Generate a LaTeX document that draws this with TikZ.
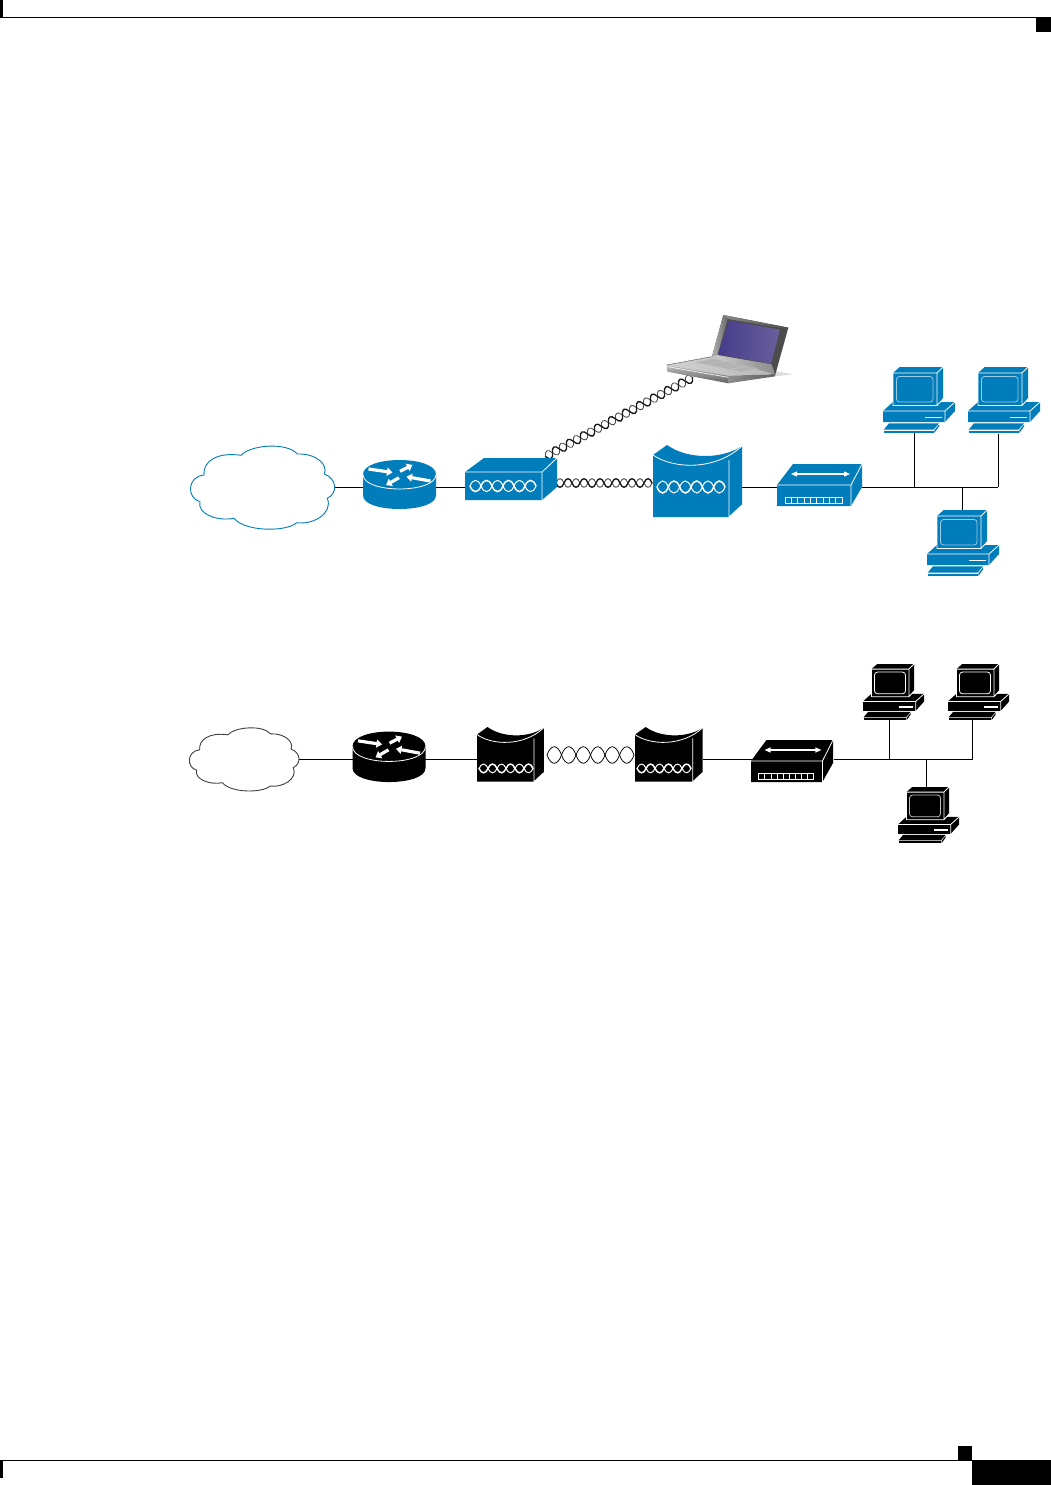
\documentclass[tikz,border=0pt]{standalone}
\usetikzlibrary{arrows.meta,calc}
\definecolor{ciscoblue}{HTML}{007DBA}
\definecolor{lightedge}{HTML}{9CCBE4}
\tikzset{
  device/.style 2 args={inner sep=0pt,outer sep=0pt,minimum width=#1pt,minimum height=#2pt},
  wire/.style={draw=black,line width=0.9pt},
  edgeline/.style={draw=white,line width=0.8pt,line join=round},
  thickstrand/.style={draw=black!90,line width=1.35pt,line cap=round},
  thinstrand/.style={draw=black!70,line width=0.85pt,line cap=round},
  plainstrand/.style={draw=black,line width=0.75pt},
  innerA/.style={draw=white,line width=1.5pt,line cap=round},
  innerB/.style={draw=white,line width=1.0pt,line cap=round},
}
% one twisted pair along the local x axis: length, lens count, control height, styles
\newcommand{\twistrun}[5]{%
  \pgfmathsetmacro\tw{#1/#2}%
  \foreach \i in {1,...,#2}{%
    \pgfmathsetmacro\ta{(\i-1)*\tw}%
    \pgfmathsetmacro\tb{\ta+0.27*\tw}%
    \pgfmathsetmacro\tc{\ta+0.73*\tw}%
    \pgfmathsetmacro\td{\ta+\tw}%
    \pgfmathsetmacro\sg{(2*mod(\i,2)-1)*#3}%
    \draw[#5] (\ta,0) .. controls (\tb,-\sg) and (\tc,-\sg) .. (\td,0);
    \draw[#4] (\ta,0) .. controls (\tb,\sg) and (\tc,\sg) .. (\td,0);
  }}
% twisted cable between two named points
\newcommand{\twistcable}[6]{%
  \path let \p1=(#1),\p2=(#2),\n1={veclen(\x2-\x1,\y2-\y1)},\n2={atan2(\y2-\y1,\x2-\x1)} in
    \pgfextra{\pgfmathsetmacro\cablelen{\n1}\xdef\cablelen{\cablelen}\pgfmathsetmacro\cableang{\n2}\xdef\cableang{\cableang}};
  \begin{scope}[shift={(#1)},rotate=\cableang]
    \twistrun{\cablelen}{#3}{#4}{#5}{#6}
  \end{scope}}
% cloud: top-left x, y, scale, outline colour
\newcommand{\cloudicon}[4]{%
  \begin{scope}[shift={(#1,#2)},x=#3pt,y=-#3pt]
    \draw[draw=#4,line width=0.9pt,fill=white]
      (14,30) .. controls (12.7,16.7) and (26.7,6.7) .. (51,10.3)
      .. controls (60,0) and (96.7,-3.3) .. (107.3,9)
      .. controls (126.7,8.3) and (138.3,20) .. (134.3,29)
      .. controls (146.7,33.3) and (148.3,48.3) .. (137.3,53.3)
      .. controls (143.3,68.3) and (123.3,80) .. (106.7,77.7)
      .. controls (96.7,87) and (55,87) .. (44,73.3)
      .. controls (26.7,76.7) and (6.7,68.3) .. (10,56.7)
      .. controls (-3.3,53.3) and (-3.3,31.7) .. (14,30) -- cycle;
  \end{scope}}
% router: top-ellipse centre x, y, fill, y stretch
\newcommand{\routericon}[4]{%
  \begin{scope}[shift={(#1,#2)},x=1pt,y=-#4pt]
    \fill[#3] (-36.5,0) -- (-36.5,21) .. controls (-36.5,39) and (36.5,39) .. (36.5,21)
      -- (36.5,0) .. controls (36.5,-19.3) and (-36.5,-19.3) .. (-36.5,0) -- cycle;
    \draw[edgeline] (-36.5,0) .. controls (-36.5,19.3) and (36.5,19.3) .. (36.5,0);
    \foreach \ax/\ay/\bx/\by in {-31/-5.5/-7/-2, 0.5/-3.2/13/-9.6, 31/6.5/7/2.2, -0.5/3.2/-13.5/10.6}{
      \draw[draw=white,line width=3.2pt,-{Triangle[length=5.5pt,width=8pt,fill=white]}] (\ax,\ay) -- (\bx,\by);
    }
  \end{scope}}
% modem box: front left x, back top y, fill
\newcommand{\modemicon}[3]{%
  \begin{scope}[shift={(#1,#2)},x=1pt,y=-1pt]
    \fill[#3] (0,14) -- (19,0) -- (92,0) -- (92,29) -- (77,42) -- (0,42) -- cycle;
    \draw[edgeline] (0,14) -- (77,14) -- (92,0) (77,14) -- (77,42);
    \begin{scope}[shift={(5,28)}]
      \twistrun{66}{6}{7.5}{innerA}{innerB}
    \end{scope}
  \end{scope}}
% concave-top device: left x, top y, scale x, scale y, fill, helix y, helix x, helix length, helix control height
\newcommand{\dslicon}[9]{%
  \begin{scope}[shift={(#1,#2)},x=#3pt,y=-#4pt]
    \fill[#5] (0,10) -- (14,0) .. controls (35,15) and (70,14) .. (89,1) -- (89,60) -- (76,72) -- (0,72) -- cycle;
    \draw[edgeline] (0,10) .. controls (20,24) and (62,26) .. (89,1);
    \draw[edgeline] (76,15) -- (76,72) -- (89,60);
    \begin{scope}[shift={(#7,#6)},x=1pt,y=-1pt]
      \twistrun{#8}{6}{#9}{innerA}{innerB}
    \end{scope}
  \end{scope}}
% hub: left x, top y, x scale, fill
\newcommand{\hubicon}[4]{%
  \begin{scope}[shift={(#1,#2)},x=#3pt,y=-1pt]
    \fill[#4] (0,21) -- (16,0) -- (85,0) -- (85,23) -- (74,42) -- (0,42) -- cycle;
    \draw[edgeline] (0,21) -- (74,21) -- (85,0) (74,21) -- (74,42);
    \draw[draw=white,line width=1.1pt,{Triangle[length=6pt,width=5pt,fill=white]}-{Triangle[length=6pt,width=5pt,fill=white]}] (14,10) -- (73,10);
    \draw[draw=white,line width=0.75pt] (8,33.5) rectangle (65,39.5);
    \foreach \k in {1,...,8}{
      \draw[draw=white,line width=0.75pt] ({8+6.333*\k},33.5) -- ({8+6.333*\k},39.5);
    }
  \end{scope}}
% computer: left x, top y, scale, fill, screen outline
\newcommand{\pcicon}[5]{%
  \begin{scope}[shift={(#1,#2)},x=#3pt,y=-#3pt]
    \fill[#4] (0,44) -- (10,35) -- (72,35) -- (72,44) -- (62,55) -- (0,55) -- cycle;
    \fill[#4] (10,6) -- (16.7,0) -- (60,0) -- (60,31) -- (54,38.5) -- (10,38.5) -- cycle;
    \draw[edgeline] (10,6) -- (54,6) -- (60,0) (54,6) -- (54,38.5) (10,6) -- (10,38.5) -- (54,38.5) -- (60,32);
    \draw[draw=#5,line width=0.8pt,rounded corners=3pt] (13.5,9.5) rectangle (50,35);
    \draw[edgeline] (0,44) -- (62,44) -- (72,35) (62,44) -- (62,55);
    \draw[draw=white,line width=1.5pt] (42,50.5) -- (59,50.5);
    \fill[#4] (6,56.3) -- (56,56.3) -- (50.5,62.7) -- (0.7,62.7) -- cycle;
    \fill[#4] (0.7,63.7) -- (50.5,63.7) -- (50.5,66) -- (0.7,66) -- cycle;
    \fill[#4] (51.3,63.4) -- (56,57.5) -- (56,59.5) -- (51.3,66) -- cycle;
  \end{scope}}
\begin{document}
\begin{tikzpicture}[x=1pt,y=-1pt]
\fill[white] (0,0) rectangle (1051,1485);
\useasboundingbox (0,0) rectangle (1051,1485);
% page furniture
\fill[black] (0,0) rectangle (3,17.6);
\fill[black] (0,16.6) rectangle (1051,17.6);
\fill[black] (1036,17) rectangle (1051,32);
\fill[black] (0,1460) rectangle (3,1478);
\fill[black] (0,1459.6) rectangle (972,1460.6);
\fill[black] (958,1446) rectangle (972,1460);
\fill[black] (972,1460) rectangle (1051,1485);

% --- blue network: device footprints
\node[device={145}{84}] (cloudA) at (262.5,487) {};
\node[device={73}{50}] (routerA) at (399.5,487) {};
\node[device={92}{62}] (modemA) at (510.5,487) {};
\node[device={89}{72}] (dslA) at (697.5,487) {};
\node[device={85}{42}] (hubA) at (819.5,487) {};
\node[device={72}{66}] (pcA) at (919,399.5) {};
\node[device={72}{66}] (pcB) at (1004,400.5) {};
\node[device={72}{66}] (pcC) at (963,543) {};
\node[device={125}{80}] (laptop) at (729,345) {};
\coordinate (tapA) at (914,487);
\coordinate (tapB) at (998,487);
\coordinate (tapC) at (962,487);
\coordinate (modemPortUp) at (545.5,456.5);
\coordinate (laptopPort) at (692.5,377.5);
\coordinate (modemPortSide) at (556,483);
\coordinate (dslPortSide) at (652,483);

\draw[wire] (cloudA.east) -- (routerA.west);
\draw[wire] (routerA.east) -- (modemA.west);
\draw[wire] (dslA.east) -- (hubA.west);
\draw[wire] (hubA.east) -- (tapB);
\draw[wire] (tapA) -- (pcA.south -| tapA);
\draw[wire] (tapB) -- (pcB.south -| tapB);
\draw[wire] (tapC) -- (pcC.north -| tapC);
\twistcable{modemPortSide}{dslPortSide}{12}{5.8}{thickstrand}{thinstrand}
\twistcable{modemPortUp}{laptopPort}{21}{5.8}{thickstrand}{thinstrand}

\cloudicon{190}{445}{1}{ciscoblue}
\routericon{399.5}{474.5}{ciscoblue}{1}
\modemicon{465}{458}{ciscoblue}
\dslicon{653}{445}{1}{1}{ciscoblue}{42}{4}{68}{8}
\hubicon{777}{464}{1}{ciscoblue}
\pcicon{883}{367}{1}{ciscoblue}{lightedge}
\pcicon{968}{367}{1}{ciscoblue}{lightedge}
\pcicon{927}{510}{1}{ciscoblue}{lightedge}

% laptop
\begin{scope}[shift={(660,305)},x=0.3333pt,y=-0.3333pt]
  \fill[black!13] (330,195) -- (398,208) -- (330,216) -- cycle;
  \fill[black!70] (190,30) -- (385,68) -- (345,212) -- (155,158) -- cycle;
  \shade[left color=black!30,right color=black!60] (190,30) -- (205,34) -- (172,152) -- (155,158) -- cycle;
  \shade[left color=black!45,right color=black!70] (190,30) -- (385,68) -- (378,72) -- (205,42) -- cycle;
  \shade[left color=black!20,right color=black!45] (172,150) -- (335,178) -- (345,208) -- (155,158) -- cycle;
  \shade[left color={rgb,255:red,70;green,60;blue,140},right color={rgb,255:red,105;green,95;blue,155}] (207,47) -- (360,74) -- (333,176) -- (174,148) -- cycle;
  \shade[left color=black!18,right color=black!28] (20,180) -- (155,155) -- (345,208) -- (205,212) -- cycle;
  \fill[black!30] (105,172) -- (160,162) -- (295,190) -- (245,200) -- cycle;
  \foreach \t in {0.25,0.5,0.75}{
    \draw[black!20,line width=0.3pt] ($(105,172)!\t!(245,200)$) -- ($(160,162)!\t!(295,190)$);
  }
  \shade[top color=black!25,bottom color=black!62] (20,180) -- (205,212) -- (205,235) -- (22,200) -- cycle;
  \shade[left color=black!45,right color=black!62] (205,212) -- (345,208) -- (345,214) -- (205,235) -- cycle;
  \draw[draw=white,line width=0.6pt] (22,185) -- (205,217);
  \draw[draw=black!60,line width=0.5pt] (20,180) -- (155,155);
\end{scope}

% --- black network: device footprints
\node[device={110}{64}] (cloudB) at (244,759) {};
\node[device={72}{50}] (routerB) at (389,759) {};
\node[device={67}{55}] (dslB) at (510.5,759) {};
\node[device={67}{55}] (dslC) at (669,759) {};
\node[device={82}{42}] (hubB) at (792.5,759) {};
\node[device={61}{56}] (pcD) at (893.5,691.5) {};
\node[device={61}{56}] (pcE) at (978.5,692) {};
\node[device={61}{56}] (pcF) at (928.5,814.5) {};
\coordinate (tapD) at (889,759);
\coordinate (tapE) at (972.5,759);
\coordinate (tapF) at (926.5,759);
\coordinate (dslPortB) at (547,755);
\coordinate (dslPortC) at (634,755);

\draw[wire] (cloudB.east) -- (routerB.west);
\draw[wire] (routerB.east) -- (dslB.west);
\draw[wire] (dslC.east) -- (hubB.west);
\draw[wire] (hubB.east) -- (tapE);
\draw[wire] (tapD) -- (pcD.south -| tapD);
\draw[wire] (tapE) -- (pcE.south -| tapE);
\draw[wire] (tapF) -- (pcF.north -| tapF);
\twistcable{dslPortB}{dslPortC}{6}{11}{plainstrand}{plainstrand}

\cloudicon{189}{727}{0.76}{black!75}
\routericon{389}{746.5}{black}{1.03}
\dslicon{477}{727}{0.75}{0.76}{black}{54.5}{2.7}{54}{5.8}
\dslicon{635}{727}{0.76}{0.76}{black}{54.5}{2.7}{54}{5.8}
\hubicon{751}{740}{0.965}{black}
\pcicon{863}{664}{0.85}{black}{white}
\pcicon{948}{664}{0.85}{black}{white}
\pcicon{898}{787}{0.85}{black}{black!25}
\end{tikzpicture}
\end{document}
